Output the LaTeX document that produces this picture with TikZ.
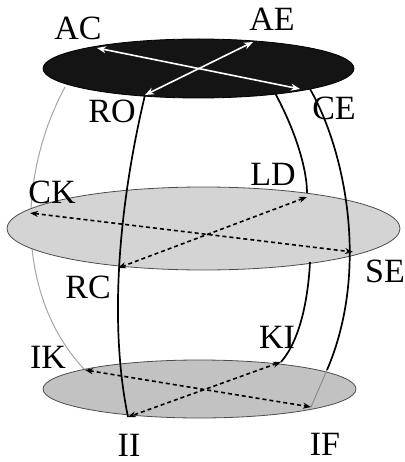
\documentclass[tikz,border=0pt]{standalone}
\usepackage{fontspec}
\setmainfont{Liberation Serif}
\usetikzlibrary{arrows.meta}
\begin{document}
\begin{tikzpicture}[x=1pt,y=-1pt,
  lbl/.style={inner sep=0pt,font=\fontsize{34}{38}\selectfont},
  whitearr/.style={draw=white,line width=1.6pt,{Stealth[length=9pt,width=7pt]}-{Stealth[length=9pt,width=7pt]}},
  dasharr/.style={draw=black,line width=1.6pt,dash pattern=on 4pt off 3pt,{Stealth[length=8pt,width=6pt]}-{Stealth[length=8pt,width=6pt]}},
  vline/.style={draw=black,line width=1.7pt},
  faint/.style={draw=black!35,line width=1pt}]
\useasboundingbox (0,0) rectangle (404,462);
% connection points
\coordinate (pAC) at (97,48);
\coordinate (pCE) at (300,89);
\coordinate (pAE) at (253,42);
\coordinate (pRO) at (145,95);
\coordinate (pCK) at (30,213);
\coordinate (pSE) at (353,252);
\coordinate (pLD) at (307,197);
\coordinate (pRC) at (118,268);
\coordinate (pIK) at (85,370);
\coordinate (pIF) at (311,407);
\coordinate (pKI) at (281,362);
\coordinate (pII) at (128,417);
\coordinate (tL) at (65,87);
\coordinate (tM) at (275,93);
\coordinate (tR) at (310,89);
\coordinate (mB) at (310,262);
\coordinate (bT) at (327,370);
% hidden / background lines
\draw[faint] (tL) .. controls (15,180) and (18,300) .. (pIK);
\draw[vline] (tM) .. controls (295,130) and (308,170) .. (pLD);
% middle disc
\fill[fill=black!17,draw=black!70,line width=0.8pt] (203.5,228.5) ellipse [x radius=196.5,y radius=41.5];
\draw[dasharr] (pCK) -- (pSE);
\draw[dasharr] (pLD) -- (pRC);
% lines crossing middle disc
\draw[vline] (tR) .. controls (345,150) and (370,270) .. (bT);
\draw[vline] (mB) .. controls (308,300) and (300,340) .. (pKI);
% bottom disc
\fill[fill=black!24,draw=black!70,line width=0.8pt] (199.5,389) ellipse [x radius=156.5,y radius=29];
\draw[draw=black!45,line width=1pt] (bT) -- (pIF);
\draw[vline] (pRO) .. controls (120,200) and (108,320) .. (pII);
\draw[dasharr] (pIK) -- (pIF);
\draw[dasharr] (pKI) -- (pII);
% top disc
\fill[fill=black!92,draw=black,line width=0.8pt] (198.5,68.5) ellipse [x radius=155.5,y radius=29.5];
\draw[whitearr] (pAC) -- (pCE);
\draw[whitearr] (pAE) -- (pRO);
% labels
\node[lbl] (AC) at (78,28) {AC};
\node[lbl] (AE) at (272,19) {AE};
\node[lbl] (RO) at (112,111) {RO};
\node[lbl] (CE) at (334,108) {CE};
\node[lbl] (CK) at (52,192) {CK};
\node[lbl] (LD) at (273,174) {LD};
\node[lbl] (RC) at (88,287) {RC};
\node[lbl] (SE) at (385,271) {SE};
\node[lbl] (IK) at (48,357) {IK};
\node[lbl] (KI) at (277,337) {KI};
\node[lbl] (II) at (129,445) {II};
\node[lbl] (IF) at (325,444) {IF};
\end{tikzpicture}
\end{document}
